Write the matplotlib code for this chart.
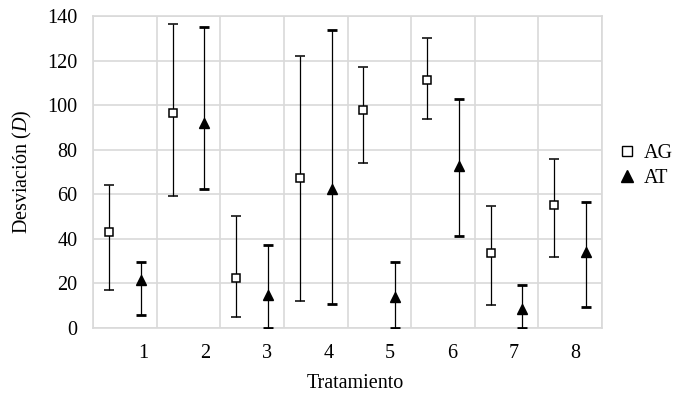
import numpy as np
import matplotlib
matplotlib.use("Agg")
import matplotlib.pyplot as plt
from matplotlib.lines import Line2D

# Datos
tratamientos = ["1", "2", "3", "4", "5", "6", "7", "8"]
ag_media = [43, 96.5, 22.3, 67.3, 97.8, 111.1, 33.6, 55.2]
ag_sup = [64, 136.4, 50.4, 122, 117.1, 130.1, 54.7, 75.8]
ag_inf = [17.2, 59.4, 5.1, 12.3, 74, 93.9, 10.5, 31.9]
at_media = [21.5, 92, 15, 62.4, 14, 72.8, 8.4, 34.1]
at_sup = [29.8, 135.2, 37.2, 133.7, 29.8, 102.7, 19.3, 56.5]
at_inf = [5.8, 62.4, 0, 10.9, 0, 41.4, 0, 9.6]

plt.rcParams['font.family'] = ['Liberation Serif', 'DejaVu Serif']
plt.rcParams['mathtext.fontset'] = 'custom'
plt.rcParams['mathtext.it'] = 'Liberation Serif:italic'
plt.rcParams['mathtext.rm'] = 'Liberation Serif'
fs = 14.5

fig = plt.figure(figsize=(6.73, 3.94), dpi=100)
ax = fig.add_axes([93/673, 1 - 328/394, (602-93)/673, (328-16)/394])

x = np.arange(1, len(tratamientos) + 1)
ag_media = np.array(ag_media); at_media = np.array(at_media)
ag_err = [ag_media - np.array(ag_inf), np.array(ag_sup) - ag_media]
at_err = [at_media - np.array(at_inf), np.array(at_sup) - at_media]

ax.errorbar(x - 0.25, ag_media, yerr=ag_err, fmt='s', mfc='white', mec='black',
            mew=1.1, ms=6, ecolor='black', elinewidth=0.9, capsize=3.8, capthick=2,
            zorder=3)
ax.errorbar(x + 0.25, at_media, yerr=at_err, fmt='^', mfc='black', mec='black',
            ms=7, ecolor='black', elinewidth=0.9, capsize=3.8, capthick=2,
            zorder=3)

ax.set_xlim(0.5, len(tratamientos) + 0.5)
ax.set_ylim(0, 140)
ax.set_yticks(np.arange(0, 141, 20))
ax.set_xticks(np.arange(0.5, len(tratamientos) + 1, 1))
ax.set_xticklabels([])
ax.tick_params(axis='both', length=0, labelsize=fs)
ax.tick_params(axis='y', pad=11)
ax.grid(True, color='#d9d9d9', lw=1.2, zorder=0)
ax.set_axisbelow(True)
for s in ax.spines.values():
    s.set_color('#d9d9d9')
    s.set_linewidth(1.2)

# etiquetas de categoria (Excel las desplaza un poco)
pos_etiq = np.linspace(1.29, 8.08, len(tratamientos))
for p, t in zip(pos_etiq, tratamientos):
    ax.text(p, -11.5, t, ha='center', va='center', fontsize=fs)

fig.text(355/673, 1 - 383/394, 'Tratamiento', ha='center', va='center', fontsize=fs)
fig.text(22/673, 1 - 172/394, r'Desviación ($\mathit{D}$)', ha='center', va='center',
         rotation=90, fontsize=fs)

handles = [Line2D([], [], ls='none', marker='s', mfc='white', mec='black', mew=1.0, ms=7.5),
           Line2D([], [], ls='none', marker='^', mfc='black', mec='black', ms=8.5)]
ax.legend(handles, ['AG', 'AT'], loc='center left', bbox_to_anchor=(1.015, 0.52),
          frameon=False, fontsize=fs, handlelength=0.9, handletextpad=0.4,
          labelspacing=0.3, borderaxespad=0)

fig.savefig('out.png', dpi=100)
